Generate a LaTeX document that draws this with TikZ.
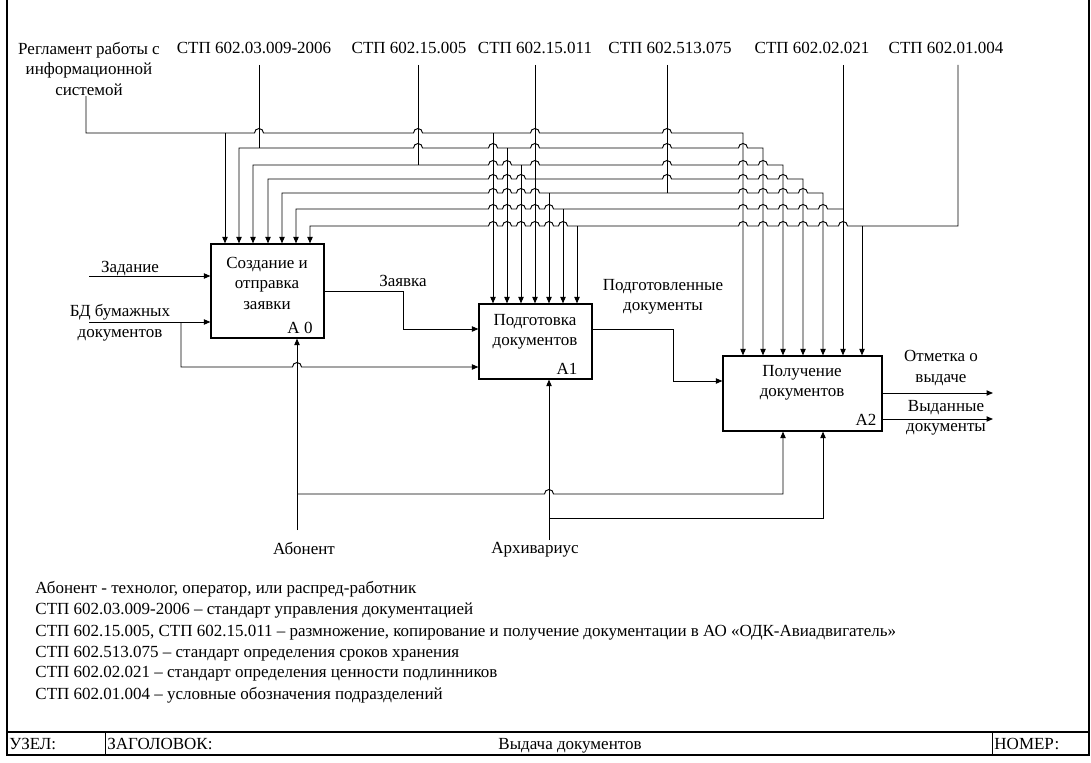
\documentclass[tikz,border=0pt]{standalone}
\usepackage{fontspec}
\setmainfont{Liberation Serif}
\usetikzlibrary{arrows.meta}
\tikzset{arr/.style={-{Triangle[length=5.5pt,width=4.5pt]}},
  rarr/.style={{Triangle[length=5.5pt,width=4.5pt]}-},
  barr/.style={{Triangle[length=5.5pt,width=4.5pt]}-{Triangle[length=5.5pt,width=4.5pt]}},
  func/.style={draw,line width=1pt}}
\newcommand{\hr}{3.84pt}

\begin{document}
\begin{tikzpicture}[x=0.03cm,y=-0.03cm,line width=0.8pt,inner sep=0pt,
  font=\fontsize{14.5}{17.5}\selectfont]
\useasboundingbox (0,0) rectangle (1091,763);
% frame
\draw[line width=1pt] (7,0) -- (7,755) -- (1089,755) -- (1089,0);
\draw[line width=1pt] (7,732) -- (1089,732);
\draw (105,732) -- (105,755);
\draw (992,732) -- (992,755);
\node[anchor=base west] (uzel) at (9,749) {УЗЕЛ:};
\node[anchor=base west] (zag) at (107,749) {ЗАГОЛОВОК:};
\node[anchor=base] (title) at (570,749) {Выдача документов};
\node[anchor=base west] (nomer) at (994,749) {НОМЕР:};

% functions
\node[func,minimum width=3.39cm,minimum height=2.82cm] (a0) at (267.5,291) {};
\node[align=center] at (267,283) {Создание и\\отправка\\заявки};
\node at (300,328) {А 0};
\node[func,minimum width=3.39cm,minimum height=2.25cm] (a1) at (535.5,341.5) {};
\node[align=center] at (535,332) {Подготовка\\документов};
\node at (567,369) {А1};
\node[func,minimum width=4.77cm,minimum height=2.25cm] (a2) at (802.5,393.5) {};
\node[align=center] at (802,383) {Получение\\документов};
\node at (866,420) {А2};

% controls
\node[align=center] (reg) at (89,69) {Регламент работы с\\информационной\\системой};
\node (s1) at (254,48) {СТП 602.03.009-2006};
\node (s2) at (409,48) {СТП 602.15.005};
\node (s3) at (535,48) {СТП 602.15.011};
\node (s4) at (670,48) {СТП 602.513.075};
\node (s5) at (812,48) {СТП 602.02.021};
\node (s6) at (946,48) {СТП 602.01.004};

\draw[arr] (86,0 |- reg.south) -- (86,133)
  foreach \h in {259,418,535,667} {-- (\h-4.5,133) arc[start angle=180,delta angle=-180,radius=\hr]}
  -- (743,133) -- (743,0 |- a2.north);
\draw[arr] (225,133) -- (225,0 |- a0.north);
\draw[arr] (493,133) -- (493,0 |- a1.north);

\draw[barr] (239,0 |- a0.north) -- (239,148)
  foreach \h in {418,493,535,667,743} {-- (\h-4.5,148) arc[start angle=180,delta angle=-180,radius=\hr]}
  -- (763,148) -- (763,0 |- a2.north);
\draw (259,65) -- (259,148);
\draw[arr] (507,148) -- (507,0 |- a1.north);

\draw[barr] (253,0 |- a0.north) -- (253,165)
  foreach \h in {493,507,535,667,743,763} {-- (\h-4.5,165) arc[start angle=180,delta angle=-180,radius=\hr]}
  -- (783,165) -- (783,0 |- a2.north);
\draw (418,65) -- (418,165);
\draw[arr] (521,165) -- (521,0 |- a1.north);

\draw[barr] (268,0 |- a0.north) -- (268,179)
  foreach \h in {493,507,521,667,743,763,783} {-- (\h-4.5,179) arc[start angle=180,delta angle=-180,radius=\hr]}
  -- (803,179) -- (803,0 |- a2.north);
\draw[arr] (535,65) -- (535,0 |- a1.north);

\draw[barr] (282,0 |- a0.north) -- (282,193)
  foreach \h in {493,507,521,535,743,763,783,803} {-- (\h-4.5,193) arc[start angle=180,delta angle=-180,radius=\hr]}
  -- (823,193) -- (823,0 |- a2.north);
\draw (667,65) -- (667,193);
\draw[arr] (549,193) -- (549,0 |- a1.north);

\draw[rarr] (296,0 |- a0.north) -- (296,209)
  foreach \h in {493,507,521,535,549,743,763,783,803,823} {-- (\h-4.5,209) arc[start angle=180,delta angle=-180,radius=\hr]}
  -- (843,209);
\draw[arr] (843,65) -- (843,0 |- a2.north);
\draw[arr] (563,209) -- (563,0 |- a1.north);

\draw[rarr] (310,0 |- a0.north) -- (310,226)
  foreach \h in {493,507,521,535,549,563,743,763,783,803,823,843} {-- (\h-4.5,226) arc[start angle=180,delta angle=-180,radius=\hr]}
  -- (958,226) -- (958,65);
\draw[arr] (577,226) -- (577,0 |- a1.north);
\draw[arr] (862,226) -- (862,0 |- a2.north);

% inputs and outputs
\coordinate (zin) at (89,276);
\coordinate (bdin) at (89,322);
\node (zad) at (130,269) {Задание};
\node[align=center] (bd) at (120,323) {БД бумажных\\документов};
\draw[arr] (zin) -- (zin -| a0.west);
\draw[arr] (bdin) -- (bdin -| a0.west);
\draw[arr] (181,322) -- (181,367)
  foreach \h in {297} {-- (\h-4.5,367) arc[start angle=180,delta angle=-180,radius=\hr]}
  -- (a1.west |- 0,367);
\node (zv) at (403,281) {Заявка};
\draw[arr] (a0.east |- 0,291) -- (403,291) -- (403,329) -- (a1.west |- 0,329);
\node[align=center] (pd) at (663,297) {Подготовленные\\документы};
\draw[arr] (a1.east |- 0,329) -- (673,329) -- (673,381) -- (a2.west |- 0,381);
\node[align=center] (otm) at (941,368) {Отметка о\\выдаче};
\node[align=center] (vyd) at (946,418) {Выданные\\документы};
\draw[arr] (a2.east |- 0,393) -- (993,393);
\draw[arr] (a2.east |- 0,419) -- (993,419);

% mechanisms
\node (ab) at (304,548) {Абонент};
\node (ar) at (535,550) {Архивариус};
\draw[arr] (297,530) -- (297,0 |- a0.south);
\draw[arr] (297,494)
  foreach \h in {549} {-- (\h-4.5,494) arc[start angle=180,delta angle=-180,radius=\hr]}
  -- (783,494) -- (783,0 |- a2.south);
\draw[arr] (549,540) -- (549,0 |- a1.south);
\draw[arr] (549,518) -- (823,518) -- (823,0 |- a2.south);

% notes
\node[anchor=west] at (35,589) {Абонент - технолог, оператор, или распред-работник};
\node[anchor=west] at (35,611) {СТП 602.03.009-2006 – стандарт управления документацией};
\node[anchor=west] at (35,633) {СТП 602.15.005, СТП 602.15.011 – размножение, копирование и получение документации в АО «ОДК-Авиадвигатель»};
\node[anchor=west] at (35,654) {СТП 602.513.075 – стандарт определения сроков хранения};
\node[anchor=west] at (35,674) {СТП 602.02.021 – стандарт определения ценности подлинников};
\node[anchor=west] at (35,695) {СТП 602.01.004 – условные обозначения подразделений};
\end{tikzpicture}
\end{document}
